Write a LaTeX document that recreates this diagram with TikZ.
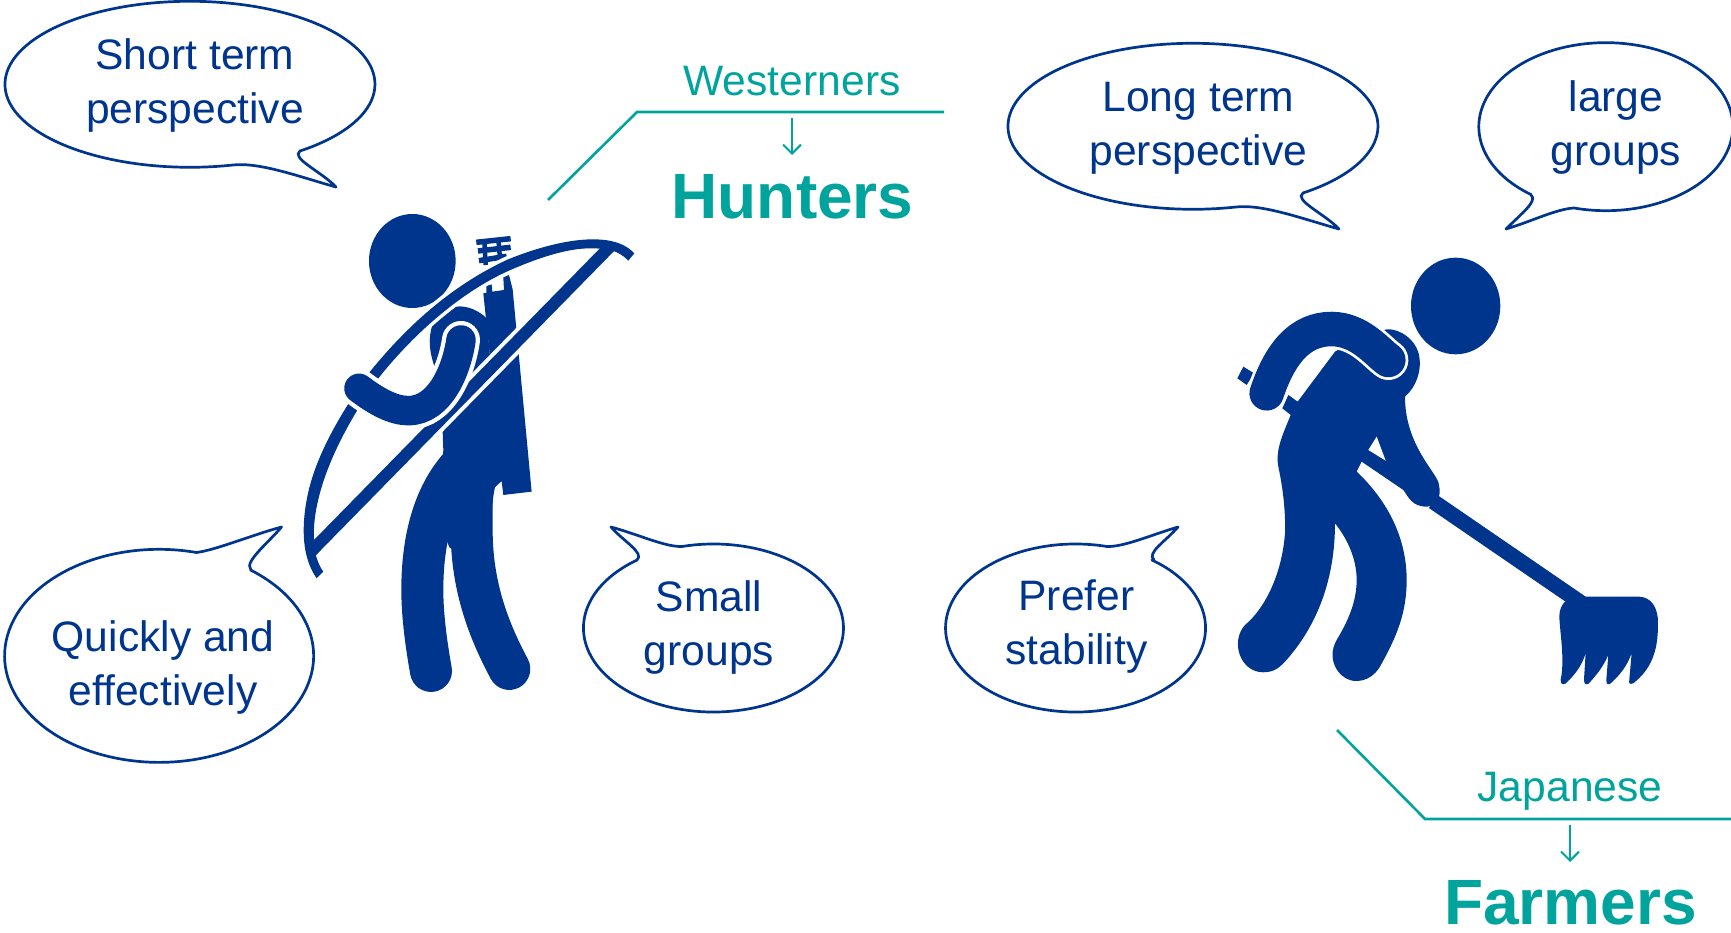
\documentclass[tikz,border=0pt]{standalone}
\usepackage{fontspec}
\setmainfont{Liberation Sans}
\usetikzlibrary{arrows.meta}
\definecolor{navy}{HTML}{00358E}
\definecolor{teal2}{HTML}{00A49C}
\tikzset{
  bubble/.style={draw=navy,line width=2.7pt,fill=white,line join=round},
  bubtext/.style={text=navy,font=\fontsize{42.6}{54}\selectfont,align=center,inner sep=0pt},
  tealtext/.style={text=teal2,font=\fontsize{42.6}{50}\selectfont,inner sep=0pt},
  bigtext/.style={text=teal2,font=\fontsize{64}{70}\selectfont\bfseries,inner sep=0pt},
  tealline/.style={draw=teal2,line width=2.6pt,line join=miter},
  tealarrow/.style={draw=teal2,line width=2pt,-{Straight Barb[length=9pt,width=18pt,line width=2pt]}},
  fig/.style={fill=navy},
  halo/.style={preaction={draw=white,line width=#1}},
  limb/.style={draw=navy,line width=#1,line cap=round},
}
\begin{document}
\begin{tikzpicture}[x=1pt,y=-1pt]
\useasboundingbox (0,0) rectangle (1731,933);
\clip (0,0) rectangle (1731,933);
% ---------- speech bubbles
\draw[bubble] (233,165) .. controls (260,162) and (300,177) .. (336,187)
  .. controls (322,172) and (290,158) .. (300,151)
  arc[start angle=53.5,end angle=-283.5,x radius=185,y radius=83] -- cycle;
\draw[bubble] (1236,207) .. controls (1263,204) and (1303,219) .. (1339,229)
  .. controls (1325,214) and (1293,200) .. (1303,193)
  arc[start angle=53.5,end angle=-283.5,x radius=185,y radius=83] -- cycle;
\draw[bubble] (1531,195) .. controls (1538,201) and (1522,213) .. (1506,229)
  .. controls (1530,222) and (1556,209) .. (1574,208)
  arc[start angle=104.5,end angle=-234,x radius=127,y radius=84] -- cycle;
\draw[bubble] (637,560) .. controls (645,553) and (623,541) .. (611,527)
  .. controls (640,535) and (665,547) .. (682,546.5)
  arc[start angle=-104,end angle=234,x radius=130,y radius=84] -- cycle;
\draw[bubble] (1154,560) .. controls (1146,553) and (1166,541) .. (1178,527)
  .. controls (1151,535) and (1124,547) .. (1107,546.5)
  arc[start angle=-76,end angle=-414,x radius=130,y radius=84] -- cycle;
\draw[bubble] (250.6,569) .. controls (244,562) and (270,541) .. (281.5,527)
  .. controls (252,535) and (216,550) .. (196.5,552.5)
  arc[start angle=-76,end angle=-413.6,x radius=154.5,y radius=106.5] -- cycle;
\node[bubtext] (t1) at (195,85) {Short term\\perspective};
\node[bubtext] (t2) at (1198.5,128) {Long term\\perspective};
\node[bubtext] (t3) at (1616,127.5) {large\\groups};
\node[bubtext] (t4) at (709,627) {Small\\groups};
\node[bubtext] (t5) at (1076.5,627) {Prefer\\stability};
\node[bubtext] (t6) at (163,667) {Quickly and\\effectively};
% ---------- labels
\node[tealtext] (w) at (792,81) {Westerners};
\node[bigtext] (h) at (792.5,197) {Hunters};
\node[tealtext] (j) at (1570,791.5) {Japanese};
\node[bigtext] (f) at (1570.5,903) {Farmers};
\coordinate (wa) at (548,200); \coordinate (wb) at (637,112); \coordinate (wc) at (944,112);
\coordinate (wd) at (792,118); \coordinate (we) at (792,155);
\coordinate (ja) at (1337,730); \coordinate (jb) at (1425,819); \coordinate (jc) at (1731,819);
\coordinate (jd) at (1570,825); \coordinate (je) at (1570,862);
\draw[tealline] (wa) -- (wb) -- (wc);
\draw[tealarrow] (wd) -- (we);
\draw[tealline] (ja) -- (jb) -- (jc);
\draw[tealarrow] (jd) -- (je);
% ---------- hunter
\begin{scope}[shift={(290,190)},x=0.3333pt,y=-0.3333pt]
\fill[fig] (367,213) ellipse[x radius=130,y radius=141];
% fletching
\draw[navy,line width=5.5pt] (559,157) -- (662,146) (564,183) -- (662,172) (567,212) -- (650,199);
\draw[navy,line width=4.5pt] (583,152) -- (587,225) (625,147) -- (630,205);
% quiver and torso
\fill[fig] (580,310) -- (589,309) -- (589,288) -- (605,283) -- (607,305) -- (642,300) -- (640,262) -- (657,255)
  -- (668,298) -- (725,905) -- (640,915) -- (635,873) -- (615,892) .. controls (600,960) and (605,1040) .. (608,1080)
  -- (484,1075) -- (478,1072) -- (466,1040) -- (400,900) -- (457,838) -- (460,780) -- (458,725) -- (600,500) -- cycle;
\fill[fig] (428,403) -- (497,350) .. controls (535,345) and (570,365) .. (590,385) -- (600,500) -- (550,560) -- (435,535)
  .. controls (420,490) and (412,450) .. (428,403) -- cycle;
% legs
\draw[limb=42pt] (510,830) .. controls (430,920) and (397,1050) .. (397,1200) .. controls (397,1280) and (410,1370) .. (423,1443);
\draw[limb=42pt] (545,900) -- (545,1020) .. controls (545,1180) and (590,1310) .. (658,1437);
% bow string
\coordinate (bsa) at (62,1086); \coordinate (bsb) at (960,170);
\draw[white,line width=20pt] (bsa) -- (bsb);
% bow
\path[fig,halo=7pt] (80,1165) .. controls (45,1115) and (30,1040) .. (50,930) .. controls (70,820) and (130,700) .. (240,545)
  .. controls (350,410) and (480,290) .. (650,210) .. controls (770,160) and (960,110) .. (1033,190) -- (1015,212)
  .. controls (985,180) and (950,175) .. (900,175) .. controls (830,175) and (740,205) .. (650,245)
  .. controls (520,305) and (380,420) .. (265,565) .. controls (190,670) and (60,880) .. (72,1060)
  .. controls (73,1090) and (85,1125) .. (100,1145) -- cycle;
\draw[navy,line width=12pt] (bsa) -- (bsb);
% arm
\draw[white,line width=38pt,line cap=round] (207,595) .. controls (260,635) and (310,662) .. (355,662) .. controls (450,662) and (500,540) .. (513,450);
\draw[limb=29.5pt] (207,595) .. controls (260,635) and (310,662) .. (355,662) .. controls (450,662) and (500,540) .. (513,450);
\end{scope}
% ---------- farmer
\begin{scope}[shift={(1220,240)},x=0.3333pt,y=-0.3333pt]
\fill[fig] (707,198) ellipse[x radius=134,y radius=145];
\fill[fig] (70,380) -- (102,400) -- (80,435) -- (52,415) -- cycle;
% broom pole and head
\draw[navy,line width=15.5pt] (640,785) -- (1085,1090);
\fill[fig] (1035,1085) -- (1100,1070) -- (1255,1070) .. controls (1295,1070) and (1315,1105) .. (1314,1150)
  .. controls (1315,1240) and (1290,1290) .. (1240,1330) .. controls (1228,1335) and (1226,1328) .. (1228,1320) -- (1235,1240)
  .. controls (1220,1280) and (1200,1305) .. (1170,1332) .. controls (1160,1335) and (1158,1328) .. (1159,1320) -- (1165,1245)
  .. controls (1150,1280) and (1130,1305) .. (1105,1332) .. controls (1095,1335) and (1090,1328) .. (1092,1320) -- (1097,1240)
  .. controls (1085,1280) and (1060,1310) .. (1035,1332) .. controls (1025,1335) and (1020,1328) .. (1022,1320)
  .. controls (1035,1260) and (1020,1180) .. (1018,1130) .. controls (1018,1110) and (1025,1095) .. (1035,1085) -- cycle;
% body
\fill[fig] (345,335) -- (233,485) -- (205,465) -- (187,505) -- (212,525) .. controls (190,580) and (165,630) .. (175,680)
  .. controls (190,750) and (197,820) .. (195,880) .. controls (185,1010) and (130,1110) .. (75,1155)
  .. controls (30,1205) and (60,1297) .. (130,1297) .. controls (165,1297) and (180,1280) .. (195,1265)
  .. controls (290,1160) and (345,1020) .. (345,850) .. controls (385,900) and (410,960) .. (410,1020)
  .. controls (410,1090) and (380,1150) .. (350,1200) .. controls (315,1260) and (360,1325) .. (410,1323)
  .. controls (440,1323) and (465,1305) .. (480,1280) .. controls (530,1190) and (560,1120) .. (560,1020)
  .. controls (560,880) and (490,770) .. (410,695) -- (425,665) -- (550,750)
  .. controls (565,770) and (575,800) .. (620,800) .. controls (650,800) and (665,770) .. (657,735)
  .. controls (655,700) and (555,620) .. (555,470) .. controls (590,440) and (605,390) .. (598,350)
  .. controls (590,300) and (540,265) .. (500,268) -- (420,290) -- cycle;
\fill[white] (470,590) -- (445,630) -- (497,662) -- cycle;
% arm
\draw[white,line width=40pt,line cap=round] (505,360) .. controls (470,335) and (420,268) .. (335,267) .. controls (240,267) and (180,340) .. (140,460);
\draw[limb=34.5pt] (505,360) .. controls (470,335) and (420,268) .. (335,267) .. controls (240,267) and (180,340) .. (140,460);
\end{scope}
\end{tikzpicture}
\end{document}
